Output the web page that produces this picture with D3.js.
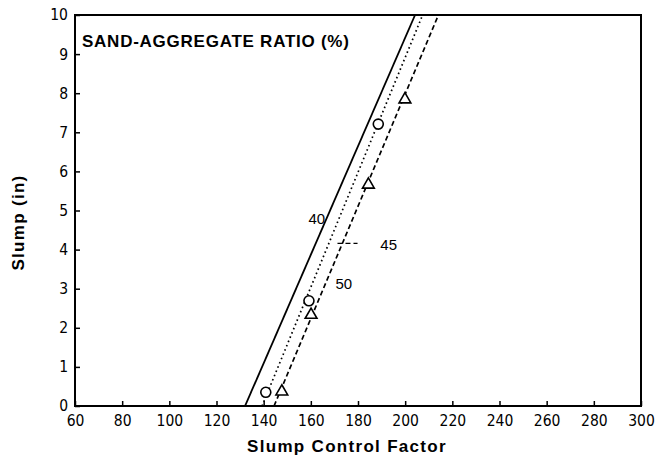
<!DOCTYPE html>
<meta charset="utf-8">
<title>Slump vs Slump Control Factor</title>
<style type="text/css">
	body { margin: 0; background: #fff; }
	.tick text { font-family: "Liberation Sans Narrow", "Arial Narrow", "DejaVu Sans Condensed", sans-serif; font-size: 15.5px; }
	.lbl { font-family: "Liberation Sans", Arial, sans-serif; font-weight: bold; }
</style>
<body>
<div id="chart"></div>
</body>
<script src="https://d3js.org/d3.v7.min.js"></script>
<script>

// tick values
var xTicks = [60, 80, 100, 120, 140, 160, 180, 200, 220, 240, 260, 280, 300];
var yTicks = [0, 1, 2, 3, 4, 5, 6, 7, 8, 9, 10];

// fitted lines, [slump control factor, slump] at the ends
var line40 = [[132.1, 0], [204.2, 10]];
var line45 = [[139.3, 0], [207.4, 10]];
var line50 = [[144.4, 0], [214.1, 10]];

// measured points
var circles45 = [[140.9, 0.35], [159.2, 2.69], [188.6, 7.21]];
var triangles50 = [[147.7, 0.37], [160.1, 2.33], [184.4, 5.66], [199.9, 7.84]];

// curve labels (position in data units)
var curveLabels = [
	{text: "40", x: 162.5, y: 4.75},
	{text: "45", x: 193, y: 4.08},
	{text: "50", x: 174, y: 3.1}
];
// leader for the 45 label
var leader45 = [[171.3, 4.16], [179.8, 4.16]];

var width = 662, height = 461;

var svg = d3.select("#chart").append("svg")
		.attr("width", width)
		.attr("height", height);

var x = d3.scaleLinear().domain([60, 300]).range([75, 641]);
var y = d3.scaleLinear().domain([0, 10]).range([406, 15]);

// frame
svg.append("rect")
		.attr("x", x(60)).attr("y", y(10))
		.attr("width", x(300) - x(60)).attr("height", y(0) - y(10))
		.attr("fill", "none").attr("stroke", "#000").attr("stroke-width", 2);

// axes with inside ticks
var xAxis = d3.axisBottom(x).tickValues(xTicks).tickSizeInner(-5).tickSizeOuter(0).tickPadding(9);
var yAxis = d3.axisLeft(y).tickValues(yTicks).tickSizeInner(-5).tickSizeOuter(0).tickPadding(7);

var gx = svg.append("g").attr("transform", "translate(0," + y(0) + ")").call(xAxis);
var gy = svg.append("g").attr("transform", "translate(" + x(60) + ",0)").call(yAxis);
gx.select(".domain").remove();
gy.select(".domain").remove();
svg.selectAll(".tick line").attr("stroke-width", 1.5);

var clip = svg.append("clipPath").attr("id", "plotclip")
		.append("rect")
		.attr("x", x(60)).attr("y", y(10))
		.attr("width", x(300) - x(60)).attr("height", y(0) - y(10));

var lineGen = d3.line()
		.x(function (d) { return x(d[0]); })
		.y(function (d) { return y(d[1]); });

var plot = svg.append("g").attr("clip-path", "url(#plotclip)");

plot.append("path").datum(line40)
		.attr("d", lineGen)
		.attr("fill", "none").attr("stroke", "#000").attr("stroke-width", 1.8);

plot.append("path").datum(line45)
		.attr("d", lineGen)
		.attr("fill", "none").attr("stroke", "#000").attr("stroke-width", 1.7)
		.attr("stroke-dasharray", "1.6,3");

plot.append("path").datum(line50)
		.attr("d", lineGen)
		.attr("fill", "none").attr("stroke", "#000").attr("stroke-width", 1.7)
		.attr("stroke-dasharray", "5,3");

plot.append("path").datum(leader45)
		.attr("d", lineGen)
		.attr("fill", "none").attr("stroke", "#000").attr("stroke-width", 1.4)
		.attr("stroke-dasharray", "5,3");

// markers
svg.selectAll("circle.pt")
		.data(circles45)
		.enter().append("circle")
		.attr("class", "pt")
		.attr("cx", function (d) { return x(d[0]); })
		.attr("cy", function (d) { return y(d[1]); })
		.attr("r", 5)
		.attr("fill", "#fff").attr("stroke", "#000").attr("stroke-width", 1.6);

var tri = d3.symbol().type(d3.symbolTriangle).size(60);
svg.selectAll("path.tri")
		.data(triangles50)
		.enter().append("path")
		.attr("class", "tri")
		.attr("d", tri)
		.attr("transform", function (d) { return "translate(" + x(d[0]) + "," + y(d[1]) + ")"; })
		.attr("fill", "#fff").attr("stroke", "#000").attr("stroke-width", 1.6);

// curve labels
svg.selectAll("text.cl")
		.data(curveLabels)
		.enter().append("text")
		.attr("class", "cl")
		.attr("x", function (d) { return x(d.x); })
		.attr("y", function (d) { return y(d.y); })
		.attr("text-anchor", "middle")
		.attr("dominant-baseline", "middle")
		.style("font-family", "'Liberation Sans', Arial, sans-serif")
		.style("font-size", "15px")
		.text(function (d) { return d.text; });

// title inside plot
svg.append("text")
		.attr("class", "lbl")
		.attr("x", 82).attr("y", 47)
		.style("font-size", "17px")
		.style("letter-spacing", "0.75px")
		.text("SAND-AGGREGATE RATIO (%)");

// axis titles
svg.append("text")
		.attr("class", "lbl")
		.attr("x", 347).attr("y", 452)
		.attr("text-anchor", "middle")
		.style("font-size", "17px")
		.style("letter-spacing", "1.3px")
		.text("Slump Control Factor");

svg.append("text")
		.attr("class", "lbl")
		.attr("transform", "translate(24," + ((y(0) + y(10)) / 2 + 12) + ") rotate(-90)")
		.attr("text-anchor", "middle")
		.style("font-size", "17px")
		.style("letter-spacing", "1.3px")
		.text("Slump (in)");

</script>
